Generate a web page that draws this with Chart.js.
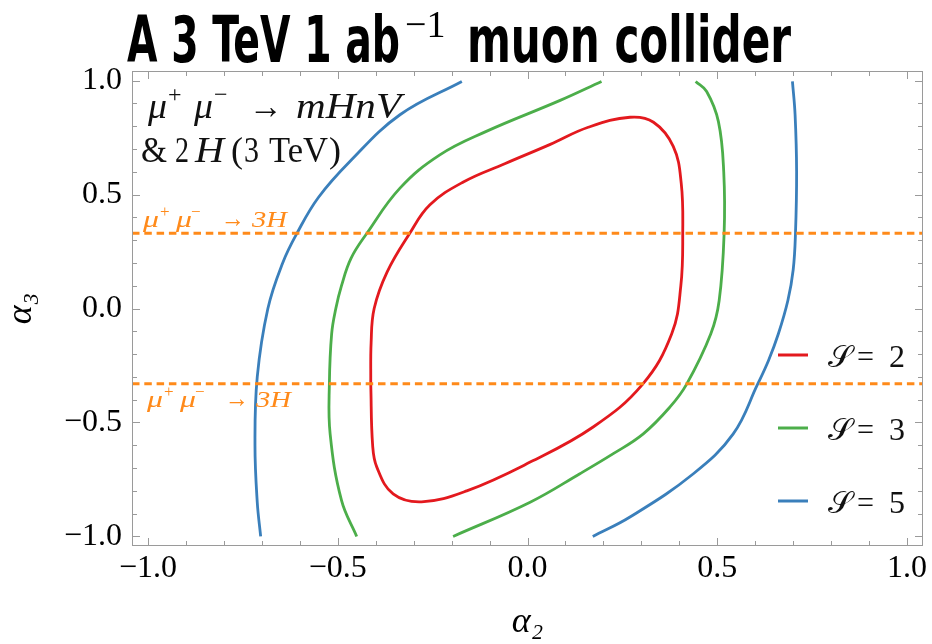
<!DOCTYPE html>
<html>
<head>
<meta charset="utf-8">
<script src="https://cdn.jsdelivr.net/npm/chart.js@4.4.0/dist/chart.umd.min.js"></script>
<style>html,body{margin:0;padding:0;background:#fff}canvas{display:block}</style>
</head>
<body>
<canvas id="c" width="932" height="644"></canvas>
<script>
// ---------------- data ----------------
const sLevels = ['2', '3', '5'];

// S = 2 : closed contour (starts and ends on the straight left side)
const s2Alpha2 = [-0.413,-0.408,-0.397,-0.354,-0.279,-0.160,0.007,0.173,0.303,0.380,0.404,0.409,0.405,0.384,0.332,0.270,0.160,0.060,-0.060,-0.169,-0.257,-0.311,-0.370,-0.404,-0.412,-0.413];
const s2Alpha3 = [-0.330,-0.600,-0.696,-0.813,-0.848,-0.800,-0.674,-0.520,-0.333,-0.111,0.100,0.330,0.550,0.711,0.817,0.839,0.795,0.720,0.635,0.555,0.455,0.328,0.160,0.000,-0.150,-0.330];

// S = 3 : two branches
const s3LeftAlpha2 = [-0.450,-0.490,-0.520,-0.522,-0.516,-0.505,-0.490,-0.465,-0.424,-0.336,-0.231,-0.110,0.086,0.195];
const s3LeftAlpha3 = [-1.000,-0.842,-0.550,-0.330,-0.111,0.000,0.100,0.220,0.328,0.528,0.674,0.776,0.913,0.996];
const s3RightAlpha2 = [-0.196,0.007,0.138,0.226,0.305,0.375,0.419,0.483,0.505,0.518,0.517,0.503,0.472,0.443];
const s3RightAlpha3 = [-1.000,-0.850,-0.725,-0.637,-0.550,-0.433,-0.333,-0.111,0.035,0.328,0.600,0.820,0.952,0.996];

// S = 5 : two branches
const s5LeftAlpha2 = [-0.703,-0.712,-0.718,-0.712,-0.684,-0.645,-0.608,-0.551,-0.468,-0.336,-0.173];
const s5LeftAlpha3 = [-1.000,-0.850,-0.600,-0.300,0.000,0.200,0.328,0.487,0.645,0.850,0.996];
const s5RightAlpha2 = [0.172,0.270,0.437,0.542,0.606,0.635,0.661,0.686,0.700,0.706,0.709,0.705,0.698];
const s5RightAlpha3 = [-1.000,-0.915,-0.725,-0.550,-0.333,-0.228,-0.111,0.035,0.170,0.328,0.600,0.850,0.996];

// mu+ mu- -> 3H bounds (horizontal lines)
const threeHBounds = [0.33, -0.33];

// axes
const axisRange = [-1.042, 1.042];
const majorTicks = [-1.0, -0.5, 0.0, 0.5, 1.0];
const majorTickLabels = ['\u22121.0', '\u22120.5', '0.0', '0.5', '1.0'];
const minorTicks = [-0.9,-0.8,-0.7,-0.6,-0.4,-0.3,-0.2,-0.1,0.1,0.2,0.3,0.4,0.6,0.7,0.8,0.9];

// ---------------- styles ----------------
const SERIF = '"Liberation Serif", "DejaVu Serif", serif';
const COLORS = { '2': '#e3191e', '3': '#4cae4a', '5': '#3a7fbb', orange: '#ff8a1a', frame: '#9a9a9a' };

function pts(xs, ys) { return xs.map((v, i) => ({ x: v, y: ys[i] })); }

const curveStyle = (c) => ({ showLine: true, borderColor: c, borderWidth: 2.8, pointRadius: 0, tension: 0.4, fill: false, clip: 0, order: 2 });

const datasets = [];
threeHBounds.forEach((b) => {
  datasets.push({ label: '3H', data: [{ x: axisRange[0], y: b }, { x: axisRange[1], y: b }], showLine: true,
    borderColor: COLORS.orange, borderWidth: 3, borderDash: [7.5, 4.8], pointRadius: 0, clip: 0, order: 0 });
});
datasets.push(Object.assign({ label: 'S = 2', data: pts(s2Alpha2, s2Alpha3), legendLevel: sLevels[0] }, curveStyle(COLORS['2'])));
datasets.push(Object.assign({ label: 'S = 3', data: pts(s3LeftAlpha2, s3LeftAlpha3), legendLevel: sLevels[1] }, curveStyle(COLORS['3'])));
datasets.push(Object.assign({ label: 'S = 3 (b)', data: pts(s3RightAlpha2, s3RightAlpha3) }, curveStyle(COLORS['3'])));
datasets.push(Object.assign({ label: 'S = 5', data: pts(s5LeftAlpha2, s5LeftAlpha3), legendLevel: sLevels[2] }, curveStyle(COLORS['5'])));
datasets.push(Object.assign({ label: 'S = 5 (b)', data: pts(s5RightAlpha2, s5RightAlpha3) }, curveStyle(COLORS['5'])));

function tickLabel(v) {
  const i = majorTicks.findIndex((m) => Math.abs(m - v) < 1e-9);
  return i >= 0 ? majorTickLabels[i] : '';
}

function piece(ctx, t, x, y, size, italic, color, family) {
  ctx.font = (italic ? 'italic ' : '') + size + 'px ' + (family || SERIF);
  ctx.fillStyle = color;
  ctx.fillText(t, x, y);
}
// text squeezed/stretched horizontally to span [x0, x1]
function fitPiece(ctx, t, x0, x1, y, font, color) {
  ctx.font = font;
  const w = ctx.measureText(t).width;
  ctx.save(); ctx.translate(x0, y); ctx.scale((x1 - x0) / w, 1); ctx.fillStyle = color; ctx.fillText(t, 0, 0); ctx.restore();
}

const decorPlugin = {
  id: 'decor',
  beforeDraw(chart) {
    const { ctx } = chart;
    ctx.save(); ctx.fillStyle = '#fff'; ctx.fillRect(0, 0, chart.width, chart.height); ctx.restore();
  },
  afterDatasetsDraw(chart) {
    const { ctx, chartArea: a, scales: { x, y } } = chart;
    ctx.save();
    ctx.strokeStyle = COLORS.frame; ctx.lineWidth = 1;
    ctx.strokeRect(a.left + 0.5, a.top + 0.5, a.right - a.left - 1, a.bottom - a.top - 1);
    const seg = (x1, y1, x2, y2) => { ctx.beginPath(); ctx.moveTo(x1, y1); ctx.lineTo(x2, y2); ctx.stroke(); };
    const xt = (v, len) => { const p = Math.round(x.getPixelForValue(v)) + 0.5; seg(p, a.bottom, p, a.bottom - len); seg(p, a.top, p, a.top + len); };
    const yt = (v, len) => { const p = Math.round(y.getPixelForValue(v)) + 0.5; seg(a.left, p, a.left + len, p); seg(a.right, p, a.right - len, p); };
    majorTicks.forEach((v) => { xt(v, 8); yt(v, 8); });
    minorTicks.forEach((v) => { xt(v, 5); yt(v, 5); });
    ctx.restore();
  },
  afterDraw(chart) {
    const { ctx, scales: { y } } = chart;
    ctx.save();
    ctx.textBaseline = 'alphabetic';
    ctx.textAlign = 'left';

    // ---- title ----
    const TF = 'bold 64px "Liberation Sans Narrow", "DejaVu Sans Condensed", Roboto, sans-serif';
    fitPiece(ctx, 'A 3 TeV 1 ab', 127, 400, 62, TF, '#000');
    piece(ctx, '\u22121', 405, 37, 38, false, '#000');
    fitPiece(ctx, 'muon collider', 467, 791, 62, TF, '#000');

    // ---- process annotation ----
    const K = '#111';
    const b1 = 118, b2 = 162, fs = 36;
    const IF = 'italic ' + fs + 'px ' + SERIF, RF = fs + 'px ' + SERIF;
    fitPiece(ctx, '\u03bc', 148, 167, b1, IF, K);
    piece(ctx, '+', 168, b1 - 16, 24, false, K);
    fitPiece(ctx, '\u03bc', 194, 213, b1, IF, K);
    piece(ctx, '\u2212', 214, b1 - 16, 24, false, K);
    fitPiece(ctx, '\u2192', 249, 283, b1, RF, K);
    fitPiece(ctx, 'mHnV', 296, 401, b1, IF, K);
    fitPiece(ctx, '&', 141, 167, b2, RF, K);
    fitPiece(ctx, '2', 175, 189, b2, RF, K);
    fitPiece(ctx, 'H', 195, 224, b2, IF, K);
    piece(ctx, '(', 231, b2, fs, false, K);
    fitPiece(ctx, '3', 244, 259, b2, RF, K);
    fitPiece(ctx, 'TeV', 269, 328, b2, RF, K);
    piece(ctx, ')', 329, b2, fs, false, K);

    // ---- 3H labels ----
    const O = COLORS.orange;
    const OI = 'italic 24px ' + SERIF, OR = '24px ' + SERIF;
    const lab3H = (x0, base) => {
      fitPiece(ctx, '\u03bc', x0, x0 + 16, base, OI, O);
      piece(ctx, '+', x0 + 17, base - 10, 17, false, O);
      fitPiece(ctx, '\u03bc', x0 + 33, x0 + 49, base, OI, O);
      piece(ctx, '\u2212', x0 + 48, base - 10, 17, false, O);
      fitPiece(ctx, '\u2192', x0 + 78, x0 + 102, base, '26px ' + SERIF, O);
      fitPiece(ctx, '3H', x0 + 109, x0 + 144, base, OI, O);
    };
    lab3H(143, y.getPixelForValue(threeHBounds[0]) - 6);
    lab3H(147, y.getPixelForValue(threeHBounds[1]) + 23);

    // ---- legend ----
    const rows = [355, 428, 501];
    chart.data.datasets.filter((d) => d.legendLevel).forEach((d, i) => {
      const yy = rows[i];
      ctx.strokeStyle = d.borderColor; ctx.lineWidth = 3;
      ctx.beginPath(); ctx.moveTo(778, yy); ctx.lineTo(808, yy); ctx.stroke();
      fitPiece(ctx, '\ud835\udcae', 828, 852, yy + 12, '30px "DejaVu Serif", ' + SERIF, '#111');
      fitPiece(ctx, '=', 857, 874, yy + 12, '32px ' + SERIF, '#111');
      fitPiece(ctx, d.legendLevel, 889, 905, yy + 12, '32px ' + SERIF, '#111');
    });
    ctx.restore();
  }
};

Chart.defaults.font.family = SERIF;
new Chart(document.getElementById('c'), {
  type: 'scatter',
  data: { datasets },
  options: {
    responsive: false,
    animation: false,
    events: [],
    layout: { padding: { top: 71, right: 9, left: 0, bottom: 0 } },
    plugins: { legend: { display: false }, tooltip: { enabled: false } },
    scales: {
      x: {
        type: 'linear', min: axisRange[0], max: axisRange[1],
        afterBuildTicks(s) { s.ticks = majorTicks.map((v) => ({ value: v })); },
        afterFit(s) { s.height = 98; s.paddingLeft = 0; s.paddingRight = 0; },
        ticks: { callback: (v) => tickLabel(v), color: '#000', font: { size: 32 }, padding: 3, maxRotation: 0, autoSkip: false },
        grid: { display: false, drawTicks: false },
        border: { display: false },
        title: { display: true, text: '\u03b1\u2082', color: '#000', font: { size: 36, style: 'italic' }, padding: { bottom: 0, top: 0 } }
      },
      y: {
        type: 'linear', min: axisRange[0], max: axisRange[1],
        afterBuildTicks(s) { s.ticks = majorTicks.map((v) => ({ value: v })); },
        afterFit(s) { s.width = 132; s.paddingTop = 0; s.paddingBottom = 0; },
        ticks: { callback: (v) => tickLabel(v), color: '#000', font: { size: 32 }, padding: 10, autoSkip: false },
        grid: { display: false, drawTicks: false },
        border: { display: false },
        title: { display: true, text: '\u03b1\u2083', color: '#000', font: { size: 36, style: 'italic' }, padding: { top: 0, bottom: 0 } }
      }
    }
  },
  plugins: [decorPlugin]
});
</script>
</body>
</html>
